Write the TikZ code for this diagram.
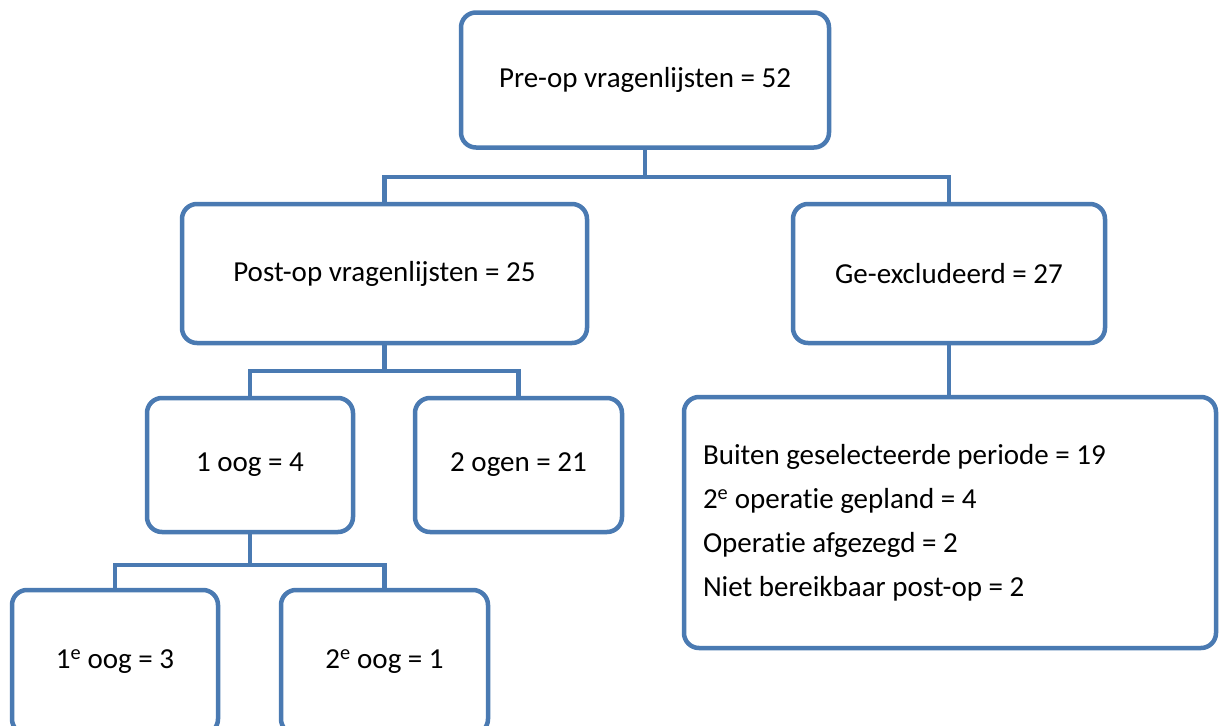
\documentclass[tikz,border=0pt]{standalone}
\usepackage{fontspec}
\setmainfont{Carlito}[Ligatures=NoCommon]
\usepackage{xcolor}
\usetikzlibrary{positioning,calc}

\definecolor{boxblue}{RGB}{74,122,178}

\begin{document}
\begin{tikzpicture}[x=1pt, y=-1pt,
    box/.style={draw=boxblue, line width=4.5pt, rounded corners=15pt, fill=white,
        inner sep=0pt, align=center, font=\fontsize{29}{44}\selectfont},
    link/.style={draw=boxblue, line width=4.5pt}]
    % Canvas
    \clip (0, 0) rectangle (1219, 726);
    \fill[white] (0, 0) rectangle (1219, 726);

    % Boxes
    \node[box, minimum width=368, minimum height=135] (pre) at (645, 80) {Pre-op vragenlijsten = 52};
    \node[box, minimum width=405, minimum height=139] (post) at (384.5, 273.5) {Post-op vragenlijsten = 25};
    \node[box, minimum width=312, minimum height=139] (excl) at (949, 273.5) {Ge-excludeerd = 27};
    \node[box, minimum width=206, minimum height=134] (een) at (250, 465) {1 oog = 4};
    \node[box, minimum width=207, minimum height=134] (twee) at (518.5, 465) {2 ogen = 21};
    \node[box, minimum width=532, minimum height=251, text width=494, align=flush left] (reden) at (950, 522.5)
        {Buiten geselecteerde periode = 19\\
         2\textsuperscript{e} operatie gepland = 4\\
         Operatie afgezegd = 2\\
         Niet bereikbaar post-op = 2};
    \node[box, minimum width=206, minimum height=144] (eerste) at (115, 662) {1\textsuperscript{e} oog = 3};
    \node[box, minimum width=207, minimum height=144] (tweede) at (384.5, 662) {2\textsuperscript{e} oog = 1};

    % Junctions
    \coordinate (j1) at (645, 177);
    \coordinate (j2) at (384.5, 371);
    \coordinate (j3) at (250, 565);

    % Connectors
    \draw[link] (pre.south) -- (j1);
    \draw[link] (post.north) |- (j1) -| (excl.north);
    \draw[link] (excl.south) -- (excl.south |- reden.north);
    \draw[link] (post.south) -- (j2);
    \draw[link] (een.north) |- (j2) -| (twee.north);
    \draw[link] (een.south) -- (j3);
    \draw[link] (eerste.north) |- (j3) -| (tweede.north);
\end{tikzpicture}
\end{document}
